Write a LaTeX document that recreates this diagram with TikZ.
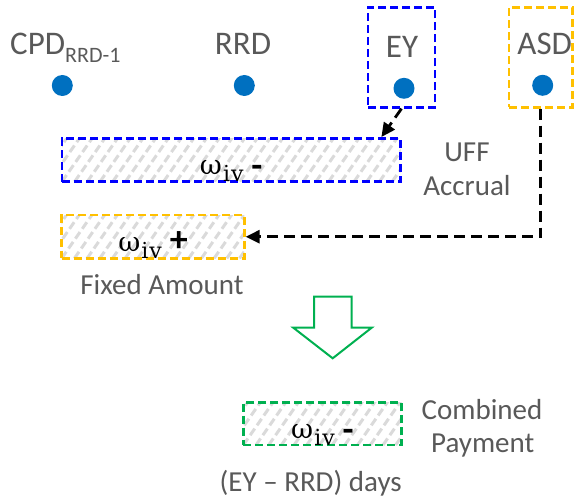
\documentclass[tikz,border=0pt]{standalone}
\usepackage{fontspec}
\setmainfont{Carlito}
\newfontfamily\symserif{DejaVu Serif}
\usetikzlibrary{arrows.meta,calc}

\definecolor{txtgray}{HTML}{595959}
\definecolor{dotblue}{HTML}{0070C0}
\definecolor{boxblue}{HTML}{0000FF}
\definecolor{boxorange}{HTML}{FFC000}
\definecolor{boxgreen}{HTML}{00B050}
\definecolor{hatchgray}{HTML}{DADADA}

% omega with subscript iv, set in an upright serif
\newcommand\omegaiv{{\symserif\fontsize{27}{27}\selectfont ω\kern1pt\raisebox{-6.5pt}{\fontsize{22}{22}\selectfont i\kern1pt v}}}
% bold sign after the amount, raised by the first argument
\newcommand\amtsign[2]{\hspace{8pt}\raisebox{#1}{\fontsize{36}{36}\selectfont\bfseries #2}}

\begin{document}
\begin{tikzpicture}[x=1pt,y=-1pt,
  toplabel/.style={font=\fontsize{33}{33}\selectfont, text=txtgray, inner sep=0pt},
  txtlabel/.style={font=\fontsize{29}{29}\selectfont, text=txtgray, inner sep=0pt},
  markdot/.style={circle, fill=dotblue, minimum size=21pt, inner sep=0pt},
  dashbox/.style={draw, line width=2.75pt, dash pattern=on 8pt off 4pt, inner sep=0pt},
  hatched/.style={path picture={
      \foreach \i in {-4,...,30}
        \draw[hatchgray, line width=3pt]
          ($(path picture bounding box.south west)+(\i*12.7,0)$) -- ++(32,-46);
    }},
  amount/.style={dashbox, hatched, text=black, text height=33pt, text depth=3pt},
  linkarrow/.style={black, line width=2.8pt, dash pattern=on 11pt off 6pt,
      -{Triangle[length=14pt,width=13pt]}}
]
\useasboundingbox (0,0) rectangle (574,503);

% highlight frames around the EY and ASD dates
\node[dashbox, draw=boxblue, minimum width=67pt, minimum height=100pt] (eybox) at (401.5,57.3) {};
\node[dashbox, draw=boxorange, minimum width=63.5pt, minimum height=100pt] (asdbox) at (540.8,57.3) {};

% timeline dates
\node[toplabel, anchor=base west] (cpd) at (10,55) {CPD\raisebox{-8pt}{\fontsize{22}{22}\selectfont RRD-1}};
\node[toplabel, anchor=base] (rrd) at (243,55) {RRD};
\node[toplabel, anchor=base] (ey) at (402,58) {EY};
\node[toplabel, anchor=base] (asd) at (544.7,55) {ASD};

\node[markdot] (cpddot) at (62.3,85.5) {};
\node[markdot] (rrddot) at (244.3,85.5) {};
\node[markdot] (eydot) at (404,88.3) {};
\node[markdot] (asddot) at (542.7,85.3) {};

% UFF accrual
\node[amount, draw=boxblue, minimum width=338.5pt, minimum height=43.2pt] (uff) at (231.25,160) {\omegaiv\amtsign{-3pt}{-}};
\node[txtlabel, anchor=base] (ufftxt) at (467,161) {UFF};
\node[txtlabel, anchor=base] (accrualtxt) at (467,195) {Accrual};

% fixed amount
\node[amount, draw=boxorange, minimum width=182.6pt, minimum height=43.3pt] (fixed) at (153,236.7) {\omegaiv\amtsign{0pt}{+}};
\node[txtlabel, anchor=base] (fixedtxt) at (162,294) {Fixed Amount};

% connectors
\coordinate (uffin) at ($(uff.north east)+(-20.5,0)$);
\draw[linkarrow] (eybox.south) -- (uffin);
\draw[linkarrow] (asdbox.south) |- (fixed.east);

% block arrow
\draw[boxgreen, line width=2pt, line join=miter]
  (314,296.7) -- (351.7,296.7) -- (351.7,327.7) -- (371.7,327.7)
  -- (332.7,358.3) -- (293.3,327.7) -- (314,327.7) -- cycle;

% combined payment
\node[amount, draw=boxgreen, minimum width=158.4pt, minimum height=42.3pt] (combined) at (322.5,423.9) {\omegaiv\amtsign{-3pt}{-}};
\node[txtlabel, anchor=base] (combtxt) at (482,419.3) {Combined};
\node[txtlabel, anchor=base] (paytxt) at (482.7,452.7) {Payment};
\node[txtlabel, anchor=base] (daystxt) at (310.7,491.7) {(EY – RRD) days};
\end{tikzpicture}
\end{document}
